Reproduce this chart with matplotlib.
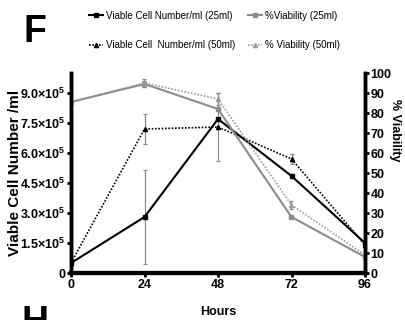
import numpy as np
import matplotlib
matplotlib.use("Agg")
import matplotlib.pyplot as plt
from matplotlib.lines import Line2D
from matplotlib import font_manager

# -------------------------
# Data
# -------------------------

hours = [0, 24, 48, 72, 96]

cells_25 = [0.5e5, 2.8e5, 7.7e5, 4.85e5, 1.5e5]
cells_25_err = [0, 2.35e5, 0, 0.1e5, 0]

cells_50 = [0.5e5, 7.2e5, 7.3e5, 5.7e5, 1.4e5]
cells_50_err = [0, 0.75e5, 1.7e5, 0.25e5, 0]

via_25 = [85.5, 94.5, 82, 28, 8]
via_25_err = [0, 1.5, 0, 0, 0]

via_50 = [85.5, 95, 87, 34, 9]
via_50_err = [0, 2, 3, 2, 0]

left_ticks = [0, 1.5e5, 3.0e5, 4.5e5, 6.0e5, 7.5e5, 9.0e5]
left_labels = ["0", "1.5×10$^5$", "3.0×10$^5$", "4.5×10$^5$",
               "6.0×10$^5$", "7.5×10$^5$", "9.0×10$^5$"]
right_ticks = list(range(0, 101, 10))

# -------------------------
# Fonts
# -------------------------

names = {f.name for f in font_manager.fontManager.ttflist}
narrow = "Liberation Sans Narrow" if "Liberation Sans Narrow" in names else "Liberation Sans"
plt.rcParams["font.family"] = [narrow, "DejaVu Sans"]
plt.rcParams["mathtext.fontset"] = "custom"
plt.rcParams["mathtext.rm"] = narrow + ":bold"
plt.rcParams["mathtext.it"] = narrow + ":bold"
plt.rcParams["mathtext.bf"] = narrow + ":bold"
wide = ["Liberation Sans", "DejaVu Sans"]

# -------------------------
# Plot
# -------------------------

fig = plt.figure(figsize=(4.05, 3.2), dpi=100)
ax = fig.add_axes([71 / 405, 1 - 273 / 320, 294 / 405, 200 / 320])
ax2 = ax.twinx()

err_kw = dict(ecolor="#8a8a8a", elinewidth=0.9, capsize=1.5, capthick=0.9)

ax.errorbar(hours, cells_25, yerr=cells_25_err, color="black", lw=1.5,
            marker="s", ms=3, **err_kw)
ax.errorbar(hours, cells_50, yerr=cells_50_err, color="black", lw=1.2,
            ls=(0, (1, 1)), marker="^", ms=3, **err_kw)
ax2.errorbar(hours, via_25, yerr=via_25_err, color="#8c8c8c", lw=1.5,
             marker="s", ms=3, **err_kw)
ax2.errorbar(hours, via_50, yerr=via_50_err, color="#9a9a9a", lw=1.2,
             ls=(0, (1, 1)), marker="^", ms=3, **err_kw)

ax.set_xlim(0, 96)
ax.set_ylim(0, 1.0e6)
ax2.set_ylim(0, 100)

ax.set_xticks(hours)
ax.set_yticks(left_ticks)
ax.set_yticklabels(left_labels)
ax2.set_yticks(right_ticks)

for a in (ax, ax2):
    a.spines["top"].set_visible(False)
    a.spines["left"].set_linewidth(2.5)
    a.spines["right"].set_linewidth(2.5)
    a.spines["bottom"].set_linewidth(3)
    a.tick_params(direction="out", length=3, width=2, pad=1,
                  labelsize=9)
    for lab in a.get_xticklabels() + a.get_yticklabels():
        lab.set_fontweight("bold")

ax.set_xlabel("Hours", fontsize=9, fontweight="bold", labelpad=11)
ax.set_ylabel("Viable Cell Number /ml", fontsize=11, fontweight="bold",
              family=wide)
ax.yaxis.set_label_coords(-0.168, 0.5)
ax2.set_ylabel("% Viability", fontsize=9, fontweight="bold", rotation=-90)
ax2.yaxis.set_label_coords(1.122, 0.715)

# -------------------------
# Legend
# -------------------------

handles = [
    Line2D([], [], color="black", lw=1.5, marker="s", ms=3),
    Line2D([], [], color="black", lw=1.2, ls=(0, (1, 1)), marker="^", ms=3),
    Line2D([], [], color="#8c8c8c", lw=1.5, marker="s", ms=3),
    Line2D([], [], color="#9a9a9a", lw=1.2, ls=(0, (1, 1)), marker="^", ms=3),
]
labels = ["Viable Cell Number/ml (25ml)", "Viable Cell  Number/ml (50ml)",
          "%Viability (25ml)", "% Viability (50ml)"]
fig.legend(handles, labels, ncol=2, loc="upper left",
           bbox_to_anchor=(82 / 405, 1 - 4 / 320), frameon=False,
           fontsize=7, handlelength=1.5, handletextpad=0.25,
           labelspacing=2.0, columnspacing=1.3, borderpad=0.2)

fig.text(23 / 405, 1 - 42 / 320, "F", fontsize=27, fontweight="bold",
         family=wide, va="baseline")
fig.text(22 / 405, 1 - 333 / 320, "H", fontsize=27, fontweight="bold",
         family=wide, va="baseline")

fig.savefig("out.png", dpi=100)
